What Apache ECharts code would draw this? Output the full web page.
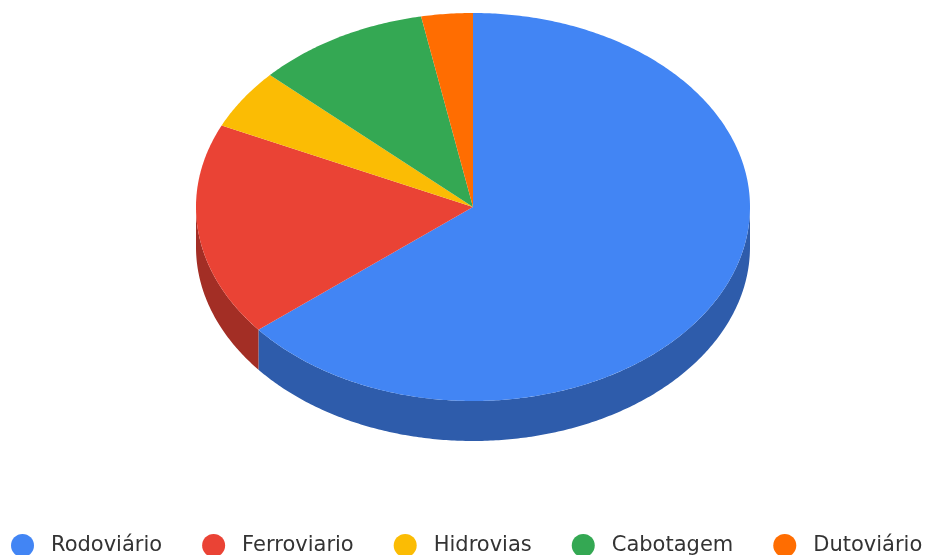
<!DOCTYPE html>
<html>
<head>
<meta charset="utf-8">
<script src="https://cdn.jsdelivr.net/npm/echarts@6/dist/echarts.min.js"></script>
<style>
  html, body { margin: 0; padding: 0; background: #fff; }
  #chart { width: 934px; height: 555px; }
</style>
</head>
<body>
<div id="chart"></div>
<script>
// Cargo transport matrix by mode (share, %)
const modes = ['Rodoviário', 'Ferroviario', 'Hidrovias', 'Cabotagem', 'Dutoviário'];
const shares = [64.1, 17.8, 5.0, 10.1, 3.0];
const topColors = ['#4285f4', '#ea4335', '#fbbc04', '#34a853', '#ff6d01'];
const sideColors = ['#2e5cab', '#a32e25', '#b08303', '#24763a', '#b34c01'];

const total = shares.reduce((a, b) => a + b, 0);
const starts = [];
let acc = 0;
shares.forEach(v => { starts.push(acc); acc += v; });

// Tilted pie geometry: ellipse centre, radii and rim thickness
const PIE = { cx: 473, cy: 207, rx: 277, ry: 194, depth: 40 };

function pt(theta, dy) {
  return [PIE.cx + PIE.rx * Math.sin(theta), PIE.cy - PIE.ry * Math.cos(theta) + (dy || 0)];
}
function arc(a0, a1, dy) {
  const n = Math.max(2, Math.ceil((a1 - a0) / 0.01));
  const pts = [];
  for (let i = 0; i <= n; i++) pts.push(pt(a0 + (a1 - a0) * i / n, dy));
  return pts;
}

function renderSlice(idx) {
  return function (params, api) {
    const v = api.value(0);
    const a0 = starts[idx] / total * 2 * Math.PI;
    const a1 = a0 + v / total * 2 * Math.PI;
    const children = [];
    // visible outer rim: front half of the ellipse
    const s = Math.max(a0, Math.PI / 2);
    const e = Math.min(a1, 1.5 * Math.PI);
    if (e > s) {
      const upper = arc(s, e, 0);
      const lower = arc(s, e, PIE.depth).reverse();
      children.push({
        type: 'polygon', z2: 1,
        shape: { points: upper.concat(lower) },
        style: { fill: sideColors[idx] }
      });
    }
    children.push({
      type: 'polygon', z2: 10,
      shape: { points: [[PIE.cx, PIE.cy]].concat(arc(a0, a1, 0)) },
      style: { fill: topColors[idx] }
    });
    return { type: 'group', children };
  };
}

const chart = echarts.init(document.getElementById('chart'), null, { renderer: 'canvas' });
chart.setOption({
  animation: false,
  color: topColors,
  legend: {
    left: 11,
    top: 534,
    padding: 0,
    icon: 'circle',
    itemWidth: 23,
    itemHeight: 23,
    itemGap: 40,
    data: modes,
    textStyle: { fontFamily: 'DejaVu Sans', fontSize: 21, color: '#333', padding: [0, 0, 0, 12] }
  },
  series: modes.map((name, i) => ({
    type: 'custom',
    name,
    coordinateSystem: 'none',
    renderItem: renderSlice(i),
    itemStyle: { color: topColors[i] },
    data: [[shares[i]]]
  }))
});
</script>
</body>
</html>
